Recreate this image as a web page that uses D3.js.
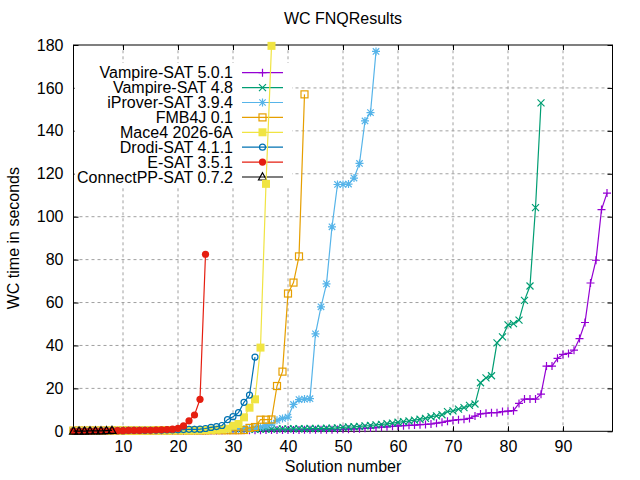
<!DOCTYPE html>
<html>
<head>
<meta charset="utf-8">
<script src="https://cdn.jsdelivr.net/npm/d3@7"></script>
<style>
body{margin:0;background:#fff;}
svg text{font-family:"Liberation Sans",Arial,sans-serif;fill:#000;}
</style>
</head>
<body>
<svg id="chart" width="640" height="480"></svg>
<script>
// ---- data ----
const seriesNames = ["Vampire-SAT 5.0.1","Vampire-SAT 4.8","iProver-SAT 3.9.4","FMB4J 0.1","Mace4 2026-6A","Drodi-SAT 4.1.1","E-SAT 3.5.1","ConnectPP-SAT 0.7.2"];
const seriesColors = ["#9400d3","#009e73","#56b4e9","#e69f00","#f0e442","#0072b2","#e51e10","#000000"];
const seriesMarkers = ["plus","cross","star","square","fsquare","circle","fcircle","triangle"];

const vampire501 = [0.1,0.1,0.1,0.1,0.1,0.1,0.1,0.2,0.2,0.2,
 0.2,0.2,0.2,0.2,0.3,0.3,0.3,0.3,0.3,0.3,
 0.3,0.4,0.4,0.4,0.4,0.4,0.4,0.4,0.5,0.5,
 0.5,0.5,0.5,0.5,0.5,0.6,0.6,0.6,0.6,0.6,
 0.6,0.6,0.7,0.7,0.7,0.7,0.7,0.7,0.8,0.9,
 1.0,1.1,1.2,1.4,1.5,1.7,1.9,2.1,2.3,2.5,
 2.6,2.8,2.9,3.1,3.2,3.4,3.8,4.2,4.7,5.1,
 5.4,5.6,6.0,7.1,8.1,8.4,8.7,8.7,9.2,9.4,
 9.6,13.0,15.0,15.0,15.0,17.3,30.4,30.4,34.0,35.8,
 36.3,37.8,43.2,50.7,69.1,79.7,103.3,111.0];
const vampire48 = [0.1,0.1,0.1,0.1,0.2,0.2,0.2,0.2,0.3,0.3,
 0.3,0.3,0.3,0.4,0.4,0.4,0.4,0.5,0.5,0.5,
 0.5,0.6,0.6,0.6,0.6,0.7,0.7,0.7,0.8,0.8,
 0.8,0.9,0.9,0.9,1.0,1.0,1.0,1.1,1.1,1.1,
 1.2,1.2,1.2,1.3,1.3,1.3,1.4,1.4,1.6,1.8,
 2.0,2.1,2.3,2.5,2.7,3.0,3.2,3.5,3.8,4.2,
 4.5,4.8,5.2,5.6,6.0,6.8,7.2,7.7,9.2,9.5,
 10.3,11.0,12.1,12.7,22.6,24.9,25.9,41.2,44.0,49.6,
 50.2,51.8,61.0,67.7,104.2,153.0];
const iprover394 = [0.2,0.2,0.2,0.2,0.3,0.3,0.3,0.3,0.3,0.4,
 0.4,0.4,0.4,0.4,0.5,0.5,0.5,0.5,0.6,0.6,
 0.6,0.7,0.7,0.7,0.8,0.8,0.8,0.9,0.9,1.0,
 1.0,1.1,1.2,1.5,2.0,2.5,3.3,5.1,6.0,6.6,
 12.5,14.8,15.0,15.2,45.4,58.0,68.7,95.3,115.0,115.0,
 115.2,118.0,124.8,144.6,148.5,177.0];
const fmb4j01 = [0.3,0.3,0.3,0.3,0.3,0.3,0.3,0.3,0.3,0.3,
 0.3,0.3,0.3,0.3,0.3,0.4,0.4,0.4,0.4,0.4,
 0.4,0.4,0.4,0.4,0.4,0.5,0.5,0.5,0.5,0.5,
 0.5,0.6,1.6,2.0,5.4,5.4,5.5,21.1,27.8,64.2,
 69.3,81.5,157.0];
const mace4 = [0.2,0.2,0.2,0.2,0.2,0.2,0.2,0.3,0.3,0.3,
 0.3,0.3,0.3,0.3,0.4,0.4,0.4,0.4,0.4,0.5,
 0.5,0.5,0.5,0.6,0.6,0.7,0.8,0.9,1.2,2.6,
 3.4,6.5,11.0,14.9,39.0,115.3,179.6];
const drodi411 = [0.2,0.2,0.2,0.2,0.2,0.3,0.3,0.3,0.3,0.3,
 0.4,0.4,0.4,0.4,0.5,0.5,0.5,0.6,0.6,0.7,
 0.8,0.9,0.9,1.0,1.3,1.8,2.2,2.7,5.4,6.8,
 8.7,13.5,16.9,34.6];
const esat351 = [0.1,0.1,0.1,0.1,0.2,0.2,0.2,0.3,0.3,0.3,
 0.4,0.4,0.4,0.5,0.5,0.6,0.7,0.8,1.0,1.4,
 2.5,4.9,7.6,14.9,82.5];
const connectpp072 = [0.1,0.1,0.1,0.2,0.2,0.2,0.3,0.4];

const seriesValues = [vampire501,vampire48,iprover394,fmb4j01,mace4,drodi411,esat351,connectpp072];

const xTicks = [10,20,30,40,50,60,70,80,90];
const yTicks = [0,20,40,60,80,100,120,140,160,180];
const titleText = "WC FNQResults";
const xLabelText = "Solution number";
const yLabelText = "WC time in seconds";

// ---- layout ----
const svg = d3.select("#chart");
const L = 73.5, R = 612.5, T = 45, B = 431.3;
const FS = 16;
const x = d3.scaleLinear().domain([1,99]).range([L,R]);
const y = d3.scaleLinear().domain([0,180]).range([B,T]);

// grid
const grid = svg.append("g").attr("stroke","#a0a0a0").attr("stroke-width",1).attr("stroke-dasharray","3,3");
xTicks.forEach(t=>grid.append("line").attr("x1",x(t)).attr("x2",x(t)).attr("y1",B).attr("y2",T));
yTicks.filter(t=>t>0&&t<180).forEach(t=>grid.append("line").attr("x1",L).attr("x2",R).attr("y1",y(t)).attr("y2",y(t)));

// axes (inward ticks, mirrored)
const tl = 5;
const axB = svg.append("g").attr("transform",`translate(0,${B})`)
  .call(d3.axisBottom(x).tickValues(xTicks).tickSizeInner(-tl).tickSizeOuter(0).tickPadding(9));
const axT = svg.append("g").attr("transform",`translate(0,${T})`)
  .call(d3.axisTop(x).tickValues(xTicks).tickSizeInner(-tl).tickSizeOuter(0).tickFormat(""));
const axL = svg.append("g").attr("transform",`translate(${L},0)`)
  .call(d3.axisLeft(y).tickValues(yTicks).tickSizeInner(-tl).tickSizeOuter(0).tickPadding(10));
const axR = svg.append("g").attr("transform",`translate(${R},0)`)
  .call(d3.axisRight(y).tickValues(yTicks).tickSizeInner(-tl).tickSizeOuter(0).tickFormat(""));
[axB,axT,axL,axR].forEach(a=>{
  a.select(".domain").remove();
  a.selectAll(".tick line").attr("stroke","#000");
  a.selectAll("text").attr("font-size",FS).attr("font-family","Liberation Sans, Arial, sans-serif").attr("fill","#000");
});
axB.selectAll("text").attr("dy","0.71em");
// border
svg.append("rect").attr("x",L).attr("y",T).attr("width",R-L).attr("height",B-T)
  .attr("fill","none").attr("stroke","#000").attr("stroke-width",1);

// markers
function drawMarker(g, type, cx, cy, color){
  const s = 4;
  if(type==="plus"){
    g.append("path").attr("d",`M${cx-s},${cy}H${cx+s}M${cx},${cy-s}V${cy+s}`).attr("stroke",color).attr("stroke-width",1.2).attr("fill","none");
  } else if(type==="cross"){
    const c=3.5;
    g.append("path").attr("d",`M${cx-c},${cy-c}L${cx+c},${cy+c}M${cx-c},${cy+c}L${cx+c},${cy-c}`).attr("stroke",color).attr("stroke-width",1.2).attr("fill","none");
  } else if(type==="star"){
    const c=3.2;
    g.append("path").attr("d",`M${cx-s},${cy}H${cx+s}M${cx},${cy-s}V${cy+s}M${cx-c},${cy-c}L${cx+c},${cy+c}M${cx-c},${cy+c}L${cx+c},${cy-c}`).attr("stroke",color).attr("stroke-width",1.2).attr("fill","none");
  } else if(type==="square"){
    g.append("rect").attr("x",cx-3.5).attr("y",cy-3.5).attr("width",7).attr("height",7).attr("fill","none").attr("stroke",color).attr("stroke-width",1.2);
  } else if(type==="fsquare"){
    g.append("rect").attr("x",cx-4).attr("y",cy-4).attr("width",8).attr("height",8).attr("fill",color).attr("stroke","none");
  } else if(type==="circle"){
    g.append("circle").attr("cx",cx).attr("cy",cy).attr("r",3).attr("fill","none").attr("stroke",color).attr("stroke-width",1.2);
  } else if(type==="fcircle"){
    g.append("circle").attr("cx",cx).attr("cy",cy).attr("r",3.6).attr("fill",color).attr("stroke","none");
  } else if(type==="triangle"){
    g.append("path").attr("d",`M${cx},${cy-4.2}L${cx+4},${cy+3}L${cx-4},${cy+3}Z`).attr("fill","none").attr("stroke",color).attr("stroke-width",1.2);
  }
}

// legend (opaque box)
const legX = 233, legLine0 = 242, legLine1 = 283, legY0 = 72.7, legDY = 14.9;
svg.append("rect").attr("x",L+1).attr("y",63).attr("width",292-L-1).attr("height",124).attr("fill","#fff");
const leg = svg.append("g");
seriesNames.forEach((name,i)=>{
  const yy = legY0 + i*legDY;
  leg.append("text").attr("x",legX).attr("y",yy).attr("dy","0.35em").attr("text-anchor","end").attr("font-size",FS).text(name);
  leg.append("line").attr("x1",legLine0).attr("x2",legLine1).attr("y1",yy).attr("y2",yy).attr("stroke",seriesColors[i]).attr("stroke-width",1.2);
  drawMarker(leg, seriesMarkers[i], (legLine0+legLine1)/2, yy, seriesColors[i]);
});

// series
const line = d3.line().x((d,i)=>x(i+1)).y(d=>y(d));
const plot = svg.append("g");
seriesValues.forEach((vals,i)=>{
  const g = plot.append("g");
  g.append("path").datum(vals).attr("d",line).attr("fill","none").attr("stroke",seriesColors[i]).attr("stroke-width",1.2);
  vals.forEach((v,j)=>drawMarker(g, seriesMarkers[i], x(j+1), y(v), seriesColors[i]));
});

// titles
svg.append("text").attr("x",(L+R)/2).attr("y",24).attr("text-anchor","middle").attr("font-size",FS).text(titleText);
svg.append("text").attr("x",(L+R)/2).attr("y",472).attr("text-anchor","middle").attr("font-size",FS).text(xLabelText);
svg.append("text").attr("transform",`translate(19,${(T+B)/2}) rotate(-90)`).attr("text-anchor","middle").attr("font-size",FS).text(yLabelText);
</script>
</body>
</html>
